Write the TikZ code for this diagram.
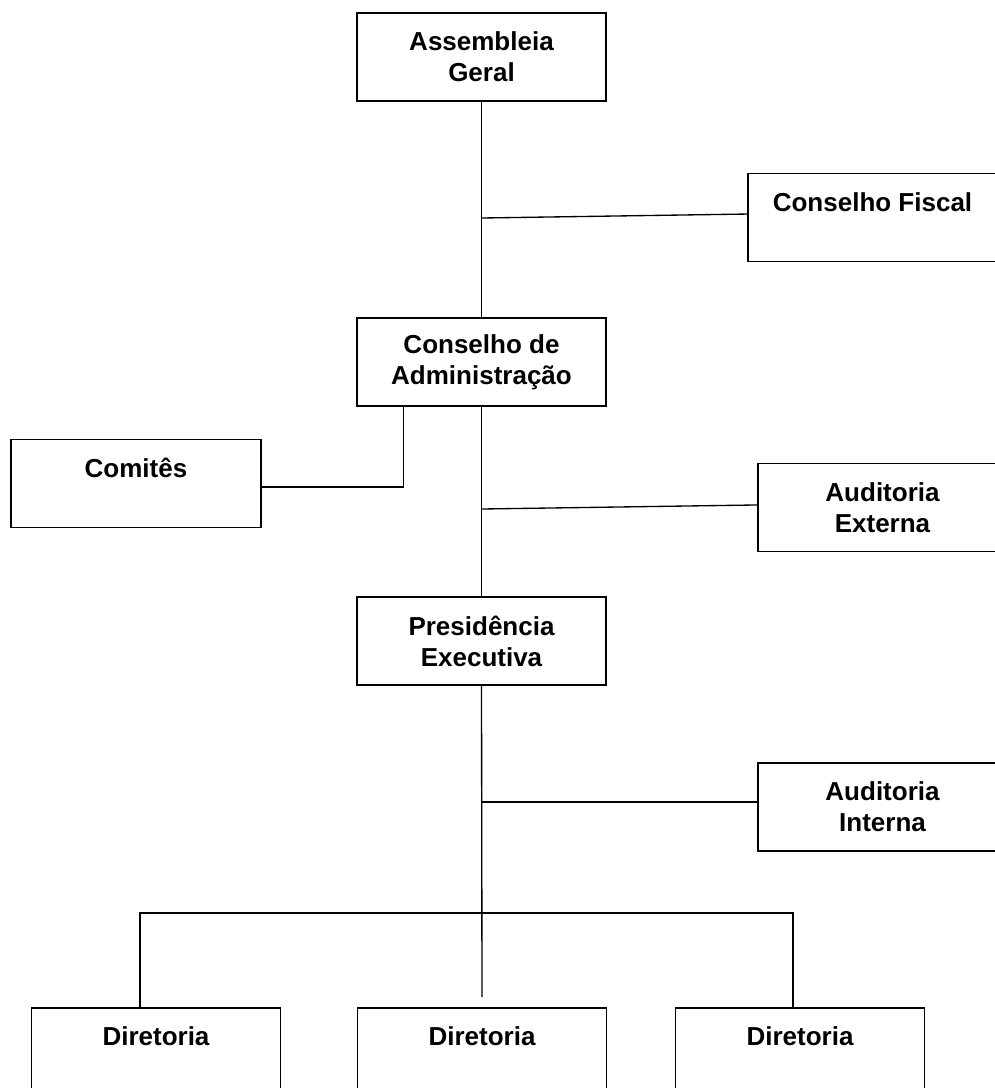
\documentclass[tikz,border=0pt]{standalone}
\usepackage{fontspec}
\setmainfont{Liberation Sans}
\usetikzlibrary{calc}
\begin{document}
\begin{tikzpicture}[x=0.75pt,y=-0.75pt,
  box/.style={draw,line width=1.4pt,minimum width=186.75pt,minimum height=66pt,inner sep=0pt,
    align=center,font=\fontsize{19.5pt}{23.25pt}\selectfont\bfseries},
  wire/.style={line width=1pt}]
\useasboundingbox (0,0) rectangle (995,1088);
\clip (0,0) rectangle (995,1088);
\node[box] (ag) at (481.5,57) {Assembleia\\Geral};
\node[box] (cf) at (872.5,217.5) {Conselho Fiscal\\\mbox{}};
\node[box] (ca) at (481.5,362) {Conselho de\\Administração};
\node[box,minimum width=187.5pt] (com) at (136,483.5) {Comitês\\\mbox{}};
\node[box] (ae) at (882.5,507.5) {Auditoria\\Externa};
\node[box] (pe) at (481.5,641) {Presidência\\Executiva};
\node[box] (ai) at (882.5,807) {Auditoria\\Interna};
\node[box] (d1) at (156,1052) {Diretoria\\\mbox{}};
\node[box] (d2) at (482,1052) {Diretoria\\\mbox{}};
\node[box] (d3) at (800,1052) {Diretoria\\\mbox{}};
\coordinate (j1) at (482,218);
\coordinate (j2) at (482,509);
\coordinate (bl) at (140,913);
\coordinate (br) at (793,913);
\coordinate (cend) at (482,997);
\draw[wire] (ag.south) -- (ca.north);
\draw[wire] (j1) -- ([yshift=2.6pt]cf.west);
\draw[wire] (ca.south) -- (pe.north);
\draw[wire] ([xshift=-58.5pt]ca.south) |- ([yshift=-2.6pt]com.east);
\draw[wire] (j2) -- ([yshift=1.9pt]ae.west);
\draw[wire] (pe.south) -- (cend);
\draw[wire] ([yshift=3.75pt]ai.west) -- ([yshift=3.75pt]ai.west -| pe.south);
\draw[wire] (d1.north -| bl) -- (bl) -- (br) -- (d3.north -| br);
\end{tikzpicture}
\end{document}
